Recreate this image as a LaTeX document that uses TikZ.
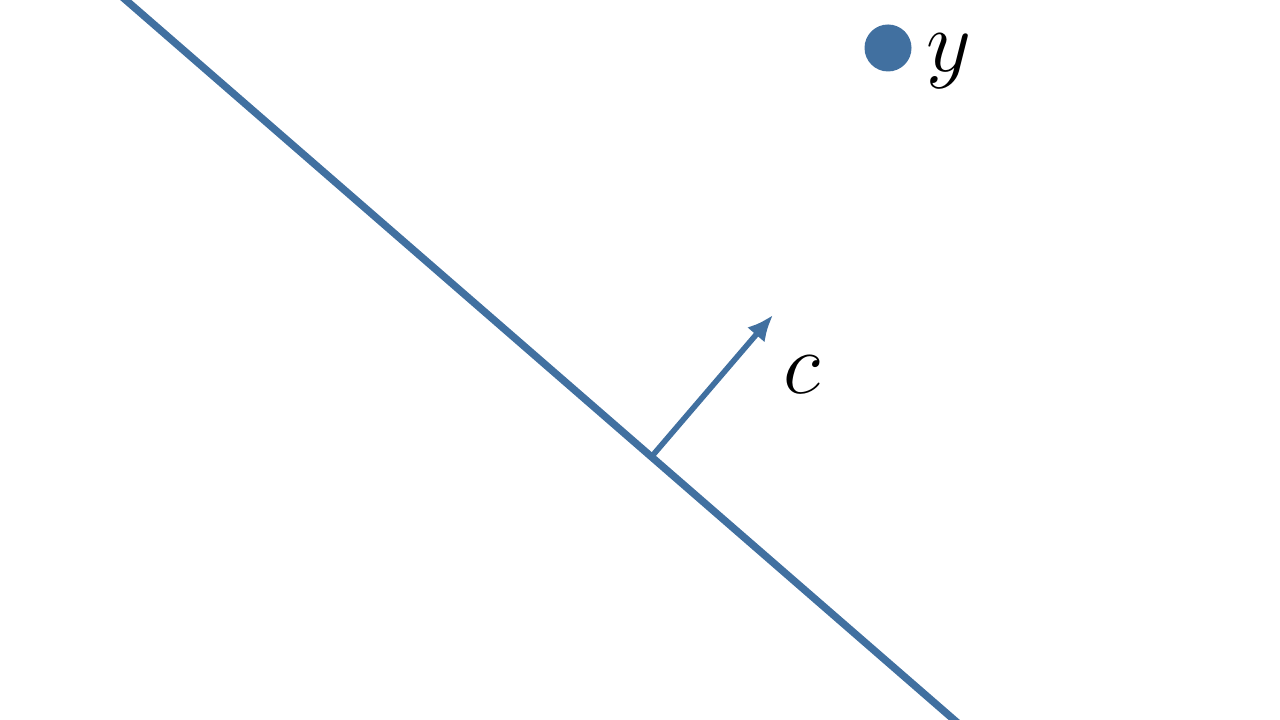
\documentclass[tikz,border=0pt]{standalone}
\usepackage{amsmath,amssymb}
\usepackage{tikz}
\usetikzlibrary{
	arrows.meta,
	positioning
}
\definecolor{steelblue}{RGB}{65,112,160}

\begin{document}
\begin{tikzpicture}[
    plane/.style={line width=2.1pt, draw=steelblue},
    normal/.style={-{Latex[length=2.6mm, width=2.3mm]}, line width=1.6pt, draw=steelblue},
    point/.style={circle, fill=steelblue, minimum size=4.7mm, inner sep=0pt},
    lbl/.style={font=\fontsize{26}{30}\selectfont, inner sep=1pt}
]
\useasboundingbox (0,0) rectangle (12.8,7.2);
\clip (0,0) rectangle (12.8,7.2);
\coordinate (top) at (1.20,7.25);
\coordinate (bot) at (9.60,-0.05);
\coordinate (foot) at (6.53,2.65);
\coordinate (tip) at (7.73,4.05);
\node[point] (pt) at (8.88,6.72) {};
\node[lbl, right=1mm of pt, yshift=-1.3mm] (ylbl) {$y$};
\node[lbl] (clbl) at (8.02,3.45) {$c$};

\draw[plane] (top) -- (bot);
\draw[normal] (foot) -- (tip);
\end{tikzpicture}
\end{document}
